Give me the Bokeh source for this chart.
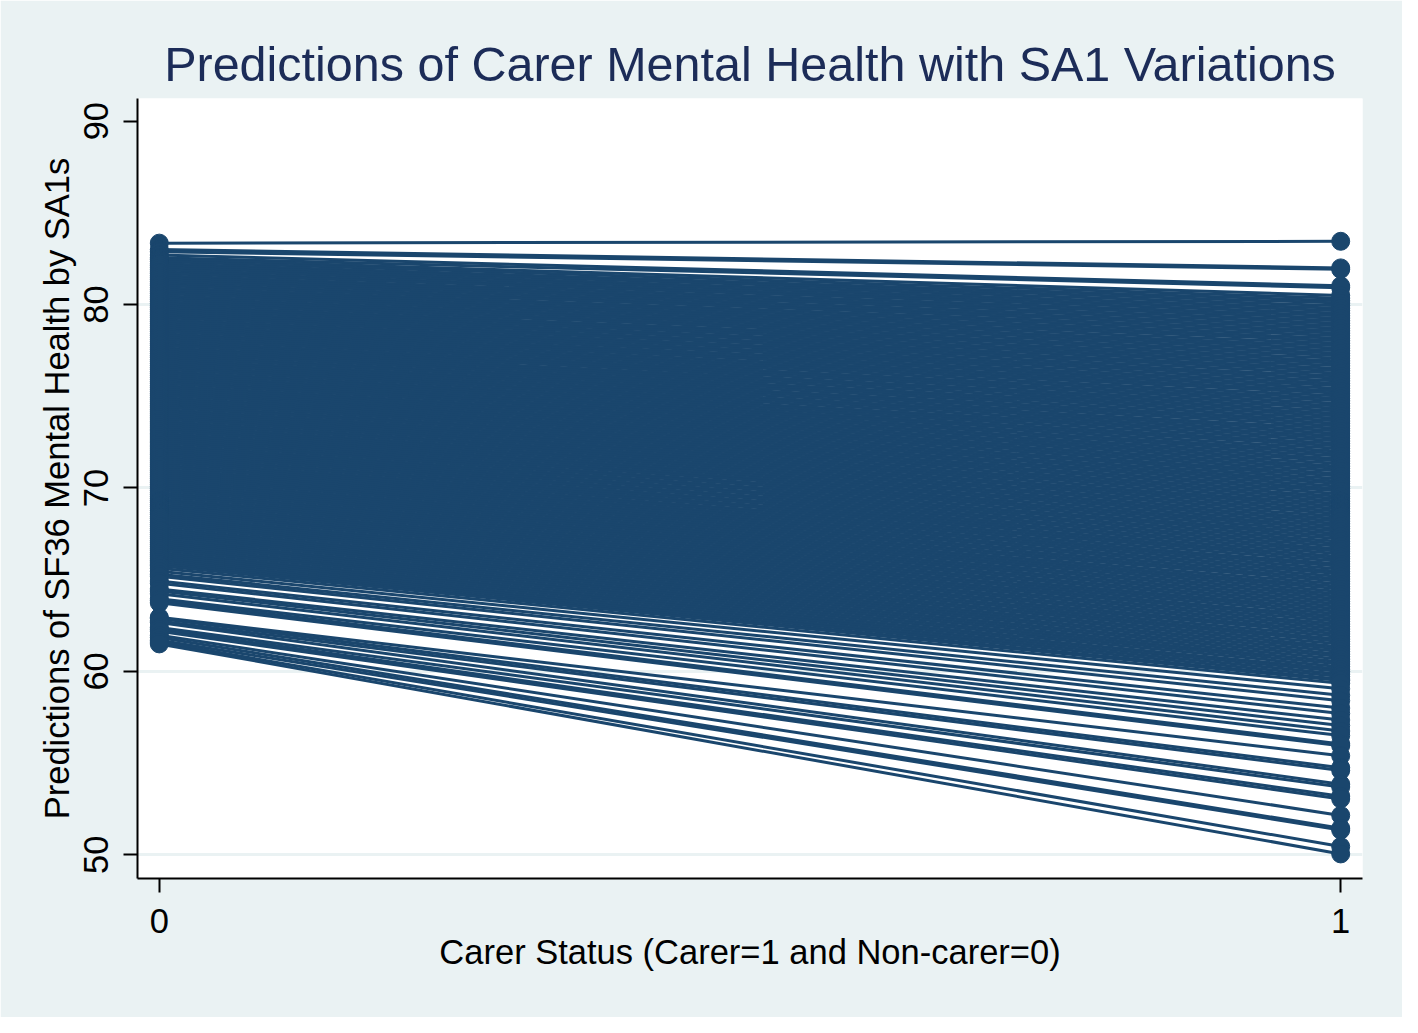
from bokeh.plotting import figure
from bokeh.models import Range1d, FixedTicker
from bokeh.embed import file_html
from bokeh.resources import INLINE

# Carer status categories (x) and tick labels
x_ticks = [0, 1]
y_ticks = [50, 60, 70, 80, 90]

# Predicted SF36 mental health per SA1: value for non-carers (x=0) and carers (x=1)
top_y0 = [83.35, 83.00, 82.88, 82.70, 82.55, 82.46]
top_y1 = [83.45, 82.00, 81.92, 81.02, 80.92, 80.50]

dense_y0 = [
    82.35, 82.22, 82.12, 82.01, 81.90, 81.78, 81.69, 81.57, 81.46, 81.36,
    81.25, 81.13, 81.04, 80.92, 80.81, 80.70, 80.60, 80.48, 80.37, 80.27,
    80.16, 80.05, 79.93, 79.83, 79.72, 79.61, 79.50, 79.39, 79.29, 79.17,
    79.07, 78.96, 78.85, 78.74, 78.63, 78.53, 78.41, 78.31, 78.20, 78.09,
    77.98, 77.87, 77.77, 77.65, 77.55, 77.44, 77.33, 77.22, 77.12, 77.00,
    76.90, 76.79, 76.68, 76.57, 76.47, 76.35, 76.25, 76.14, 76.03, 75.92,
    75.81, 75.71, 75.59, 75.49, 75.38, 75.27, 75.16, 75.06, 74.94, 74.84,
    74.73, 74.62, 74.51, 74.41, 74.29, 74.19, 74.08, 73.97, 73.86, 73.76,
    73.64, 73.54, 73.43, 73.32, 73.21, 73.11, 72.99, 72.89, 72.78, 72.67,
    72.56, 72.46, 72.34, 72.24, 72.13, 72.02, 71.91, 71.81, 71.69, 71.59,
    71.48, 71.37, 71.26, 71.16, 71.04, 70.94, 70.83, 70.72, 70.61, 70.51,
    70.39, 70.29, 70.18, 70.07, 69.96, 69.86, 69.74, 69.64, 69.53, 69.42,
    69.31, 69.21, 69.09, 68.99, 68.88, 68.77, 68.66, 68.56, 68.44, 68.34,
    68.23, 68.12, 68.01, 67.91, 67.79, 67.69, 67.58, 67.47, 67.36, 67.26,
    67.14, 67.04, 66.93, 66.82, 66.71, 66.61, 66.49, 66.39, 66.28, 66.17,
    66.06, 65.96, 65.85, 65.76,
]
dense_y1 = [
    80.35, 80.21, 80.08, 79.94, 79.80, 79.67, 79.53, 79.39, 79.26, 79.12,
    78.98, 78.85, 78.71, 78.57, 78.44, 78.30, 78.16, 78.03, 77.89, 77.75,
    77.62, 77.48, 77.34, 77.21, 77.07, 76.93, 76.80, 76.66, 76.52, 76.39,
    76.25, 76.11, 75.98, 75.84, 75.70, 75.57, 75.43, 75.29, 75.16, 75.02,
    74.88, 74.75, 74.61, 74.47, 74.34, 74.20, 74.06, 73.93, 73.79, 73.65,
    73.52, 73.38, 73.24, 73.11, 72.97, 72.83, 72.70, 72.56, 72.42, 72.29,
    72.15, 72.01, 71.88, 71.74, 71.60, 71.47, 71.33, 71.19, 71.06, 70.92,
    70.78, 70.65, 70.51, 70.37, 70.24, 70.10, 69.96, 69.83, 69.69, 69.55,
    69.42, 69.28, 69.14, 69.01, 68.87, 68.73, 68.60, 68.46, 68.32, 68.19,
    68.05, 67.91, 67.78, 67.64, 67.50, 67.37, 67.23, 67.09, 66.96, 66.82,
    66.68, 66.55, 66.41, 66.27, 66.14, 66.00, 65.86, 65.73, 65.59, 65.45,
    65.32, 65.18, 65.04, 64.91, 64.77, 64.63, 64.50, 64.36, 64.22, 64.09,
    63.95, 63.81, 63.68, 63.54, 63.40, 63.27, 63.13, 62.99, 62.86, 62.72,
    62.58, 62.45, 62.31, 62.17, 62.04, 61.90, 61.76, 61.63, 61.49, 61.35,
    61.22, 61.08, 60.94, 60.81, 60.67, 60.53, 60.40, 60.26, 60.12, 59.99,
    59.85, 59.72, 59.58, 59.50,
]

low_y0 = [65.62, 65.46, 65.30, 65.19, 64.93, 64.80, 64.50, 64.38, 64.23, 63.96,
          63.86, 63.74, 62.95, 62.89, 62.75, 62.67, 62.40, 62.30, 62.19, 61.97,
          61.85, 61.70, 61.60, 61.50]
low_y1 = [59.35, 59.05, 58.70, 58.40, 58.00, 57.70, 57.35, 57.05, 56.75, 56.50,
          56.05, 55.95, 55.40, 54.75, 54.60, 53.85, 53.70, 53.20, 53.05, 52.15,
          51.45, 51.35, 50.45, 50.05]

y0 = top_y0 + dense_y0 + low_y0
y1 = top_y1 + dense_y1 + low_y1

NAVY = "#1A466D"
BG = "#EAF2F3"
FONT = "Liberation Sans"

p = figure(width=1402, height=1017, output_backend="svg", toolbar_location=None,
           x_range=Range1d(-0.01845, 1.01845), y_range=Range1d(48.71, 91.235),
           min_border_left=137, min_border_right=40, min_border_top=98,
           min_border_bottom=139)
p.background_fill_color = "white"
p.border_fill_color = BG
p.outline_line_color = None

xs = [[x_ticks[0], x_ticks[1]] for _ in y0]
ys = [[a, b] for a, b in zip(y0, y1)]
p.multi_line(xs, ys, line_color=NAVY, line_width=3)
p.scatter([x_ticks[0]] * len(y0) + [x_ticks[1]] * len(y1), y0 + y1,
          size=18, fill_color=NAVY, line_color=NAVY)

p.title.text = "Predictions of Carer Mental Health with SA1 Variations"
p.title.align = "center"
p.title.text_font = FONT
p.title.text_font_size = "48.5px"
p.title.text_font_style = "normal"
p.title.text_color = "#1C2C58"
p.title.standoff = 15

p.xaxis.ticker = FixedTicker(ticks=x_ticks)
p.yaxis.ticker = FixedTicker(ticks=y_ticks)
p.xgrid.visible = False
p.ygrid.ticker = FixedTicker(ticks=[50, 60, 70, 80])
p.ygrid.grid_line_color = BG
p.ygrid.grid_line_width = 3

for ax in (p.xaxis, p.yaxis):
    ax.axis_line_color = "black"
    ax.axis_line_width = 2
    ax.major_tick_line_color = "black"
    ax.major_tick_line_width = 2
    ax.major_tick_out = 14
    ax.major_tick_in = 0
    ax.minor_tick_line_color = None
    ax.major_label_text_font = FONT
    ax.major_label_text_font_size = "34.5px"
    ax.major_label_text_color = "black"
    ax.axis_label_text_font = FONT
    ax.axis_label_text_font_size = "34.5px"
    ax.axis_label_text_font_style = "normal"
    ax.axis_label_text_color = "black"

p.xaxis.axis_label = "Carer Status (Carer=1 and Non-carer=0)"
p.yaxis.axis_label = "Predictions of SF36 Mental Health by SA1s"
p.yaxis.major_label_orientation = "vertical"
p.xaxis.major_label_standoff = 16
p.xaxis.axis_label_standoff = -3
p.yaxis.major_label_standoff = 15
p.yaxis.axis_label_standoff = 6

open("out.html", "w").write(file_html(p, INLINE))
